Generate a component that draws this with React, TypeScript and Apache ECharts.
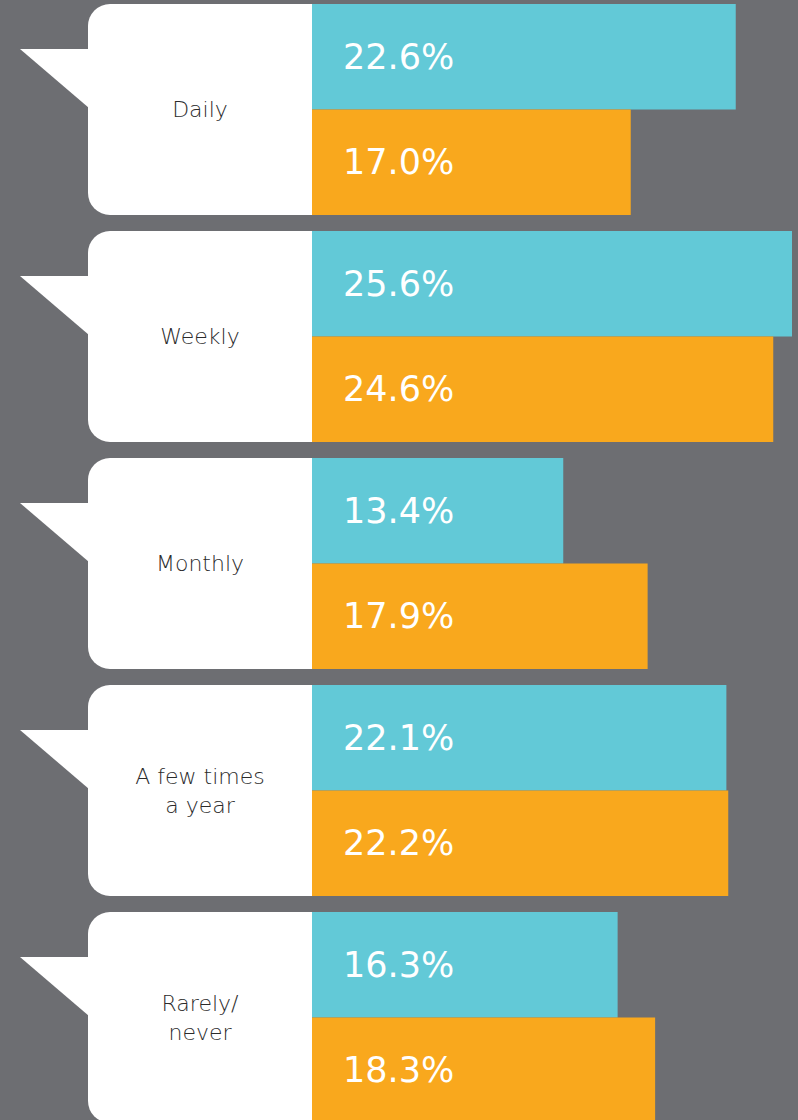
import React, { useEffect, useRef } from "react";
import * as echarts from "echarts";

const categories = ["Daily", "Weekly", "Monthly", "A few times\na year", "Rarely/\nnever"];
const cyanValues = [22.6, 25.6, 13.4, 22.1, 16.3];
const orangeValues = [17.0, 24.6, 17.9, 22.2, 18.3];

const BG = "#6d6e72";
const CYAN = "#62c9d7";
const ORANGE = "#f9a81d";
const BAR_H = 105.5;

export default function App() {
  const ref = useRef<HTMLDivElement>(null);
  useEffect(() => {
    document.body.style.margin = "0";
    document.body.style.overflow = "hidden";
    document.documentElement.style.overflow = "hidden";
    document.body.style.background = BG;
    const chart = echarts.init(ref.current!, null, { renderer: "svg" });
    const labelStyle = {
      show: true,
      position: [31, "50%"] as any,
      verticalAlign: "middle" as const,
      color: "#ffffff",
      fontSize: 35,
      fontFamily: "'DejaVu Sans', sans-serif",
      fontWeight: 400 as any,
      formatter: (p: any) => Number(p.value).toFixed(1) + "%",
    };
    chart.setOption({
      animation: false,
      backgroundColor: BG,
      grid: { left: 312, right: 0, top: 0, bottom: 0 },
      xAxis: { type: "value", min: 0, max: 25.92, show: false },
      yAxis: {
        type: "category",
        inverse: true,
        data: categories,
        show: false,
      },
      series: [
        {
          type: "custom",
          clip: false,
          z: 1,
          data: categories.map((c, i) => [0, i]),
          renderItem: (params: any, api: any) => {
            const p = api.coord([0, api.value(1)]);
            const right = p[0];
            const top = p[1] - BAR_H;
            const h = BAR_H * 2;
            const left = right - 224;
            return {
              type: "group",
              children: [
                {
                  type: "rect",
                  shape: { x: left, y: top, width: right - left, height: h, r: [22, 0, 0, 22] },
                  style: { fill: "#ffffff" },
                },
                {
                  type: "polygon",
                  shape: { points: [[20, top + 45], [left + 1, top + 45], [left + 1, top + 104]] },
                  style: { fill: "#ffffff" },
                },
                {
                  type: "text",
                  style: {
                    text: categories[params.dataIndex],
                    x: (left + right) / 2,
                    y: p[1],
                    align: "center",
                    verticalAlign: "middle",
                    fill: "#2b2b2b",
                    fontSize: 22,
                    lineHeight: 29,
                    fontFamily: "'DejaVu Sans', sans-serif",
                    fontWeight: 300,
                  },
                },
              ],
            };
          },
        },
        {
          type: "bar",
          data: cyanValues,
          barWidth: BAR_H,
          barGap: "0%",
          itemStyle: { color: CYAN },
          label: labelStyle,
          z: 2,
        },
        {
          type: "bar",
          data: orangeValues,
          barWidth: BAR_H,
          barGap: "0%",
          itemStyle: { color: ORANGE },
          label: labelStyle,
          z: 2,
        },
      ],
    });
    return () => chart.dispose();
  }, []);
  return (
    <div
      ref={ref}
      style={{ position: "absolute", left: 0, top: -4, width: 798, height: 1135 }}
    />
  );
}
